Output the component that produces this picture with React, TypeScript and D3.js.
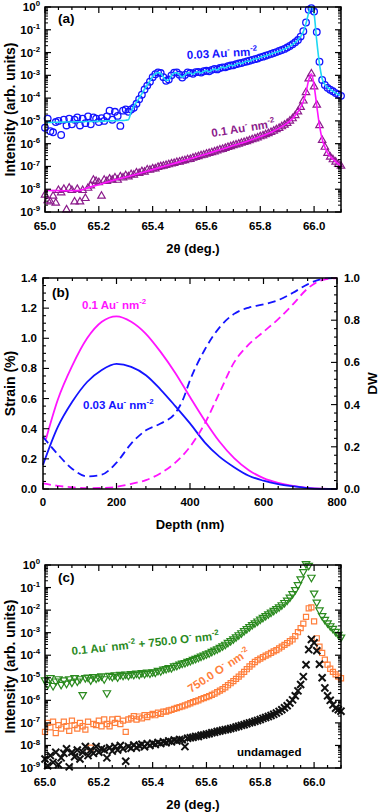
import React from "react";
import * as d3 from "d3";

const FONT = "'Liberation Sans', Arial, Helvetica, sans-serif";

// 2θ scan grid shared by every measured curve (65.00 ... 66.10, step 0.01)
const THETA_START = 65.0;
const THETA_STEP = 0.01;
const THETA_DOMAIN = [65.0, 66.1];
const THETA_TICKS = [65.0, 65.2, 65.4, 65.6, 65.8, 66.0];
const LOG_DECADES = [-9, -8, -7, -6, -5, -4, -3, -2, -1, 0];

// (a) log10 intensity, 0.03 Au- nm-2 : measured
const au003Obs = [
  -5.3, -4.9, -5.45, -5.5, -5.05, -5.0, -5.62, -4.95, -5.2, -4.9,
  -5.15, -4.95, -4.85, -5.2, -4.9, -5.1, -4.8, -5.15, -4.85, -4.9,
  -5.05, -4.88, -5.0, -4.8, -4.55, -4.95, -4.6, -4.78, -5.22, -4.55,
  -4.5, -4.6, -4.5, -4.42, -4.25, -4.05, -3.85, -3.62, -3.45, -3.28,
  -3.08, -2.95, -2.87, -2.9, -3.08, -3.24, -3.18, -3.0, -2.88, -2.87,
  -2.97, -3.1, -2.98, -2.87, -2.9, -2.93, -2.86, -2.85, -2.88, -2.82,
  -2.8, -2.82, -2.76, -2.72, -2.74, -2.68, -2.65, -2.65, -2.6, -2.57,
  -2.56, -2.51, -2.48, -2.46, -2.42, -2.39, -2.36, -2.32, -2.29, -2.26,
  -2.21, -2.18, -2.14, -2.1, -2.06, -2.02, -1.98, -1.93, -1.89, -1.84,
  -1.78, -1.71, -1.63, -1.55, -1.45, -1.3, -1.06, -0.68, -0.12, -0.05,
  -0.2, -1.1, -2.4, -3.2, -3.42, -3.55, -3.63, -3.7, -3.78, -3.84,
  -3.9,
];
// (a) log10 intensity, 0.03 Au- nm-2 : simulated
const au003Fit = [
  -5.07, -5.07, -5.07, -5.06, -5.06, -5.06, -5.06, -5.05, -5.05, -5.05,
  -5.05, -5.04, -5.04, -5.04, -5.04, -5.03, -5.03, -5.03, -5.02, -5.02,
  -5.02, -5.01, -5.01, -5.0, -5.0, -5.0, -4.99, -4.99, -4.98, -4.98,
  -4.97, -4.95, -4.6, -4.35, -4.18, -4.0, -3.8, -3.6, -3.42, -3.25,
  -3.05, -2.93, -2.88, -2.92, -3.08, -3.22, -3.2, -3.02, -2.9, -2.88,
  -2.98, -3.08, -2.98, -2.88, -2.9, -2.95, -2.86, -2.84, -2.9, -2.83,
  -2.79, -2.84, -2.77, -2.72, -2.76, -2.68, -2.64, -2.67, -2.6, -2.56,
  -2.58, -2.51, -2.47, -2.48, -2.42, -2.38, -2.38, -2.32, -2.28, -2.27,
  -2.21, -2.17, -2.15, -2.1, -2.06, -2.02, -1.98, -1.94, -1.9, -1.85,
  -1.79, -1.72, -1.64, -1.55, -1.44, -1.3, -1.08, -0.72, -0.25, 0.03,
  -0.3, -1.5, -2.5, -3.15, -3.4, -3.53, -3.62, -3.7, -3.77, -3.84,
  -3.9,
];
// (a) log10 intensity, 0.1 Au- nm-2 : measured
const au01Obs = [
  -8.25, -8.5, -8.55, -8.3, -8.6, -8.05, -8.15, -8.0, -8.9, -7.95,
  -8.05, -8.55, -8.0, -8.55, -8.05, -8.4, -7.95, -7.85, -7.6, -7.65,
  -7.7, -8.3, -7.6, -7.65, -7.55, -7.6, -7.5, -7.6, -7.45, -7.5,
  -7.4, -7.45, -7.35, -7.38, -7.28, -7.3, -7.22, -7.24, -7.15, -7.16,
  -7.1, -7.1, -7.03, -7.0, -6.98, -6.95, -6.92, -6.88, -6.86, -6.82,
  -6.8, -6.76, -6.74, -6.7, -6.68, -6.63, -6.6, -6.56, -6.52, -6.5,
  -6.45, -6.42, -6.39, -6.35, -6.31, -6.27, -6.24, -6.2, -6.16, -6.12,
  -6.08, -6.05, -6.01, -5.97, -5.94, -5.9, -5.86, -5.82, -5.78, -5.74,
  -5.69, -5.65, -5.6, -5.55, -5.5, -5.44, -5.38, -5.32, -5.25, -5.18,
  -5.1, -5.0, -4.9, -4.76, -4.6, -4.4, -4.12, -3.75, -3.15, -2.93,
  -3.5, -4.3, -5.2, -5.85, -6.15, -6.42, -6.58, -6.7, -6.8, -6.9,
  -6.98,
];
// (a) 0.1 Au- nm-2 : simulated (own 2θ knots)
const au01FitTheta = [
  65.0, 65.05, 65.1, 65.13, 65.16, 65.2, 65.25, 65.3, 65.35, 65.4, 65.45,
  65.5, 65.55, 65.6, 65.65, 65.7, 65.75, 65.8, 65.85, 65.88, 65.9, 65.92,
  65.94, 65.95, 65.96, 65.97, 65.98, 65.99, 66.0, 66.01, 66.02, 66.03,
  66.04, 66.05, 66.07, 66.1,
];
const au01FitLog = [
  -8.05, -8.06, -8.07, -8.05, -7.93, -7.8, -7.62, -7.47, -7.31, -7.14, -6.97,
  -6.8, -6.63, -6.45, -6.27, -6.08, -5.9, -5.69, -5.44, -5.25, -5.1, -4.9,
  -4.6, -4.4, -4.15, -3.75, -3.2, -2.93, -3.45, -4.35, -5.2, -5.8,
  -6.15, -6.4, -6.68, -6.98,
];

// (c) log10 intensity, 0.1 Au- nm-2 + 750.0 O- nm-2
const auOxObs = [
  -5.1, -5.3, -5.0, -5.35, -5.15, -5.05, -5.3, -5.1, -5.25, -5.05,
  -5.2, -5.0, -5.15, -5.05, -5.75, -5.0, -4.98, -5.1, -4.95, -5.02,
  -4.97, -4.92, -5.05, -5.67, -4.9, -4.95, -4.88, -4.97, -4.86, -4.9,
  -4.84, -4.9, -4.82, -4.86, -4.8, -4.85, -4.78, -4.82, -4.76, -4.8,
  -4.74, -4.76, -4.68, -4.7, -4.62, -4.6, -4.55, -4.56, -4.48, -4.46,
  -4.4, -4.36, -4.33, -4.28, -4.24, -4.19, -4.15, -4.1, -4.05, -4.0,
  -3.95, -3.9, -3.84, -3.78, -3.72, -3.66, -3.59, -3.52, -3.44, -3.36,
  -3.28, -3.19, -3.1, -3.01, -2.92, -2.83, -2.74, -2.65, -2.57, -2.49,
  -2.41, -2.33, -2.25, -2.17, -2.1, -2.02, -1.94, -1.86, -1.77, -1.67,
  -1.56, -1.43, -1.28, -1.1, -0.88, -0.62, -0.3, 0.05, -0.02, -0.55,
  -1.25, -1.65, -2.0, -2.25, -2.42, -2.57, -2.7, -2.82, -2.95, -3.08,
  -3.2,
];
// (c) log10 intensity, 750.0 O- nm-2
const oxObs = [
  -7.4, -7.0, -7.2, -6.95, -7.45, -7.1, -7.25, -6.95, -7.15, -7.35,
  -6.9, -7.1, -7.25, -7.0, -7.15, -7.3, -6.95, -8.1, -7.05, -7.1,
  -6.9, -7.15, -6.85, -7.05, -7.15, -6.85, -7.0, -6.82, -7.05, -6.9,
  -7.4, -6.85, -6.8, -6.7, -6.85, -6.72, -6.8, -6.66, -6.74, -6.66,
  -6.6, -6.66, -6.55, -6.6, -6.5, -6.5, -6.45, -6.42, -6.38, -6.34,
  -6.3, -6.27, -6.22, -6.18, -6.13, -6.08, -6.04, -6.0, -5.95, -5.9,
  -5.86, -5.81, -5.76, -5.7, -5.64, -5.57, -5.5, -5.42, -5.33, -5.24,
  -5.15, -5.05, -4.95, -4.85, -4.74, -4.62, -4.5, -4.4, -4.3, -4.22,
  -4.15, -4.08, -4.02, -3.96, -3.9, -3.83, -3.77, -3.7, -3.62, -3.54,
  -3.46, -3.38, -3.3, -3.15, -2.98, -2.8, -2.6, -2.3, -1.92, -1.88,
  -2.5, -3.25, -3.62, -3.9, -4.2, -4.42, -4.6, -4.74, -4.85, -4.95,
  -5.02,
];
// (c) log10 intensity, undamaged
const pristineObs = [
  -8.6, -8.9, -8.45, -8.75, -8.3, -8.85, -8.55, -8.35, -8.15, -8.95,
  -8.3, -8.5, -8.2, -8.6, -8.3, -8.05, -8.45, -8.2, -8.35, -8.05,
  -8.3, -8.15, -8.2, -8.55, -8.1, -8.25, -8.05, -8.2, -8.0, -8.15,
  -8.7, -8.05, -8.12, -7.98, -8.1, -8.0, -7.95, -8.06, -7.92, -8.0,
  -7.9, -7.96, -7.87, -7.92, -7.84, -7.88, -7.8, -7.84, -7.76, -7.8,
  -7.74, -7.75, -8.05, -7.68, -7.66, -7.64, -7.6, -7.6, -7.55, -7.54,
  -7.5, -7.48, -7.44, -7.42, -7.38, -7.36, -7.33, -7.3, -7.28, -7.25,
  -7.22, -7.18, -7.15, -7.11, -7.08, -7.04, -7.0, -6.97, -6.93, -6.89,
  -6.85, -6.8, -6.76, -6.72, -6.67, -6.62, -6.56, -6.49, -6.42, -6.33,
  -6.24, -6.12, -5.98, -5.8, -5.58, -5.3, -4.95, -4.42, -3.75, -3.3,
  -3.45, -3.8, -4.4, -5.0, -5.45, -5.8, -6.0, -6.2, -6.35, -6.42,
  -6.48,
];

// (b) depth profiles
const DEPTH_TICKS = [0, 200, 400, 600, 800];
const STRAIN_TICKS = [0, 0.2, 0.4, 0.6, 0.8, 1.0, 1.2, 1.4];
const DW_TICKS = [0, 0.2, 0.4, 0.6, 0.8, 1.0];
const depthGrid = [0, 40, 80, 120, 160, 200, 240, 280, 320, 360, 400, 440, 480, 520, 560, 600, 640, 680, 720, 760, 800];
const strain01Depth = [8, 40, 80, 120, 160, 200, 240, 280, 320, 360, 400, 440, 480, 520, 560, 600, 640, 680, 720, 760, 800];
const strain01 = [0.33, 0.59, 0.82, 1.0, 1.11, 1.146, 1.11, 1.03, 0.91, 0.77, 0.61, 0.455, 0.315, 0.205, 0.125, 0.072, 0.04, 0.02, 0.008, 0.002, 0.0];
const strain003 = [0.16, 0.41, 0.58, 0.71, 0.79, 0.83, 0.81, 0.755, 0.66, 0.55, 0.435, 0.31, 0.215, 0.145, 0.088, 0.055, 0.033, 0.018, 0.006, 0.001, 0.0];
const dw003Depth = [0, 40, 80, 120, 160, 200, 240, 280, 320, 360, 380, 400, 440, 480, 520, 560, 600, 640, 680, 720, 760, 800];
const dw003 = [0.247, 0.165, 0.095, 0.06, 0.068, 0.125, 0.215, 0.278, 0.31, 0.36, 0.42, 0.515, 0.66, 0.765, 0.83, 0.86, 0.875, 0.895, 0.93, 0.97, 0.995, 1.0];
const dw01 = [0.027, 0.015, 0.008, 0.004, 0.005, 0.01, 0.024, 0.042, 0.075, 0.125, 0.2, 0.31, 0.455, 0.6, 0.685, 0.745, 0.805, 0.875, 0.95, 0.99, 1.0];

const FRAME_A = { left: 45, right: 341, top: 7, bottom: 212 };
const FRAME_B = { left: 43, right: 337, top: 278, bottom: 489 };
const FRAME_C = { left: 45, right: 341, top: 565, bottom: 768 };

const BLUE = "#1414ff";
const CYAN = "#1fd8f2";
const PURPLE = "#8c1c8c";
const MAGENTA = "#ff14ff";
const GREEN = "#2a8a1e";
const ORANGE = "#ff7f3c";

type Part = { t: string; sup?: boolean };
function Rich({ parts, fs = 11.5, ...rest }: any) {
  let level = 0;
  return (
    <text {...rest} fontSize={fs} style={{ whiteSpace: "pre" }}>
      {parts.map((p: Part, i: number) => {
        const target = p.sup ? -fs * 0.42 : 0;
        const dy = target - level;
        level = target;
        return (
          <tspan key={i} dy={dy} fontSize={p.sup ? fs * 0.68 : fs}>
            {p.t}
          </tspan>
        );
      })}
    </text>
  );
}

const auLabel = (dose: string): Part[] => [
  { t: `${dose} Au` }, { t: "-", sup: true }, { t: " nm" }, { t: "-2", sup: true },
];

const thetaAt = (i: number) => THETA_START + i * THETA_STEP;

const triPath = d3.symbol().type(d3.symbolTriangle).size(24)() as string;
const sqPath = d3.symbol().type(d3.symbolSquare).size(26)() as string;
const xPath = d3.symbol().type(((d3 as any).symbolX ?? d3.symbolCross) as any).size(34)() as string;

function Frame({ f }: any) {
  return <rect x={f.left} y={f.top} width={f.right - f.left} height={f.bottom - f.top} fill="none" stroke="#000" strokeWidth={1.5} />;
}

function ThetaAxis({ f, x }: any) {
  const minors = d3.range(0, 23).map((i) => 65.0 + i * 0.05);
  return (
    <g>
      {minors.map((t, i) => {
        const major = i % 4 === 0;
        const len = major ? 6 : 3;
        const px = x(t);
        return (
          <g key={i} stroke="#000" strokeWidth={1.2}>
            <line x1={px} x2={px} y1={f.bottom} y2={f.bottom - len} />
            <line x1={px} x2={px} y1={f.top} y2={f.top + len} />
          </g>
        );
      })}
      {THETA_TICKS.map((t) => (
        <text key={t} x={x(t)} y={f.bottom + 18} textAnchor="middle" fontSize={11.5}>
          {d3.format(".1f")(t)}
        </text>
      ))}
      <text x={(f.left + f.right) / 2} y={f.bottom + 41} textAnchor="middle" fontSize={13}>
        2θ (deg.)
      </text>
    </g>
  );
}

function LogAxis({ f, y }: any) {
  const minors: number[] = [];
  LOG_DECADES.slice(0, -1).forEach((d) => {
    for (let k = 2; k <= 9; k++) minors.push(k * Math.pow(10, d));
  });
  const mid = (f.top + f.bottom) / 2;
  return (
    <g>
      {LOG_DECADES.map((d) => {
        const py = y(Math.pow(10, d));
        return (
          <g key={d}>
            <line x1={f.left} x2={f.left + 6} y1={py} y2={py} stroke="#000" strokeWidth={1.2} />
            <line x1={f.right} x2={f.right - 6} y1={py} y2={py} stroke="#000" strokeWidth={1.2} />
            <Rich x={f.left - 5} y={py + 4} textAnchor="end" parts={[{ t: "10" }, { t: String(d), sup: true }]} />
          </g>
        );
      })}
      {minors.map((v, i) => {
        const py = y(v);
        return (
          <g key={i} stroke="#000" strokeWidth={1}>
            <line x1={f.left} x2={f.left + 3} y1={py} y2={py} />
            <line x1={f.right} x2={f.right - 3} y1={py} y2={py} />
          </g>
        );
      })}
      <text transform={`translate(15,${mid}) rotate(-90)`} textAnchor="middle" fontSize={14}>
        Intensity (arb. units)
      </text>
    </g>
  );
}

function Markers({ values, x, y, path, color, rotate = 0, sw = 1.2 }: any) {
  return (
    <g fill="none" stroke={color} strokeWidth={sw}>
      {values.map((v: number, i: number) => (
        <path key={i} d={path} transform={`translate(${x(thetaAt(i))},${y(Math.pow(10, v))})${rotate ? ` rotate(${rotate})` : ""}`} />
      ))}
    </g>
  );
}

function PanelA() {
  const f = FRAME_A;
  const x = d3.scaleLinear().domain(THETA_DOMAIN).range([f.left, f.right]);
  const y = d3.scaleLog().domain([1e-9, 1]).range([f.bottom, f.top]);
  const gridLine = d3
    .line<number>()
    .x((_, i) => x(thetaAt(i)))
    .y((v) => y(Math.pow(10, v)))
    .curve(d3.curveMonotoneX);
  const knotLine = d3
    .line<number>()
    .x((_, i) => x(au01FitTheta[i]))
    .y((v) => y(Math.pow(10, v)))
    .curve(d3.curveMonotoneX);
  return (
    <g>
      <g fill="none" stroke={BLUE} strokeWidth={1.3}>
        {au003Obs.map((v, i) => (
          <circle key={i} cx={x(thetaAt(i))} cy={y(Math.pow(10, v))} r={3.3} />
        ))}
      </g>
      <Markers values={au01Obs} x={x} y={y} path={triPath} color={PURPLE} />
      <path d={gridLine(au003Fit) as string} fill="none" stroke={CYAN} strokeWidth={1.6} />
      <path d={knotLine(au01FitLog) as string} fill="none" stroke={MAGENTA} strokeWidth={1.6} />
      <Frame f={f} />
      <ThetaAxis f={f} x={x} />
      <LogAxis f={f} y={y} />
      <text x={58} y={23} fontSize={13.5}>(a)</text>
      <Rich x={187} y={59} fill={BLUE} fs={11.5} transform="rotate(-3 187 59)" parts={auLabel("0.03")} />
      <Rich x={212} y={137} fill={PURPLE} fs={11.5} transform="rotate(-9 212 137)" parts={auLabel("0.1")} />
    </g>
  );
}

function PanelB() {
  const f = FRAME_B;
  const x = d3.scaleLinear().domain([0, 800]).range([f.left, f.right]);
  const yS = d3.scaleLinear().domain([0, 1.4]).range([f.bottom, f.top]);
  const yD = d3.scaleLinear().domain([0, 1]).range([f.bottom, f.top]);
  const mk = (depths: number[], ys: any) =>
    d3
      .line<number>()
      .x((_, i) => x(depths[i]))
      .y((v) => ys(v))
      .curve(d3.curveMonotoneX);
  const xMinor = d3.range(0, 801, 40);
  const sMinor = d3.range(0, 29).map((i) => i * 0.05);
  const dMinor = d3.range(0, 26).map((i) => i * 0.04);
  const mid = (f.top + f.bottom) / 2;
  return (
    <g>
      <path d={mk(strain01Depth, yS)(strain01) as string} fill="none" stroke={MAGENTA} strokeWidth={1.8} />
      <path d={mk(depthGrid, yS)(strain003) as string} fill="none" stroke={BLUE} strokeWidth={1.8} />
      <path d={mk(dw003Depth, yD)(dw003) as string} fill="none" stroke={BLUE} strokeWidth={1.8} strokeDasharray="8 4.5" />
      <path d={mk(depthGrid, yD)(dw01) as string} fill="none" stroke={MAGENTA} strokeWidth={1.8} strokeDasharray="8 4.5" />
      <Frame f={f} />
      <g stroke="#000">
        {xMinor.map((d) => {
          const len = d % 200 === 0 ? 6 : 3;
          return (
            <g key={d} strokeWidth={1.2}>
              <line x1={x(d)} x2={x(d)} y1={f.bottom} y2={f.bottom - len} />
              <line x1={x(d)} x2={x(d)} y1={f.top} y2={f.top + len} />
            </g>
          );
        })}
        {sMinor.map((s, i) => (
          <line key={i} x1={f.left} x2={f.left + (i % 4 === 0 ? 6 : 3)} y1={yS(s)} y2={yS(s)} strokeWidth={1.1} />
        ))}
        {dMinor.map((s, i) => (
          <line key={i} x1={f.right} x2={f.right - (i % 5 === 0 ? 6 : 3)} y1={yD(s)} y2={yD(s)} strokeWidth={1.1} />
        ))}
      </g>
      {DEPTH_TICKS.map((d) => (
        <text key={d} x={x(d)} y={f.bottom + 17} textAnchor="middle" fontSize={11.5}>{d}</text>
      ))}
      {STRAIN_TICKS.map((s) => (
        <text key={s} x={f.left - 6} y={yS(s) + 4} textAnchor="end" fontSize={11.5}>{d3.format(".1f")(s)}</text>
      ))}
      {DW_TICKS.map((s) => (
        <text key={s} x={f.right + 7} y={yD(s) + 4} textAnchor="start" fontSize={11.5}>{d3.format(".1f")(s)}</text>
      ))}
      <text x={(f.left + f.right) / 2} y={f.bottom + 40} textAnchor="middle" fontSize={13}>Depth (nm)</text>
      <text transform={`translate(15,${mid}) rotate(-90)`} textAnchor="middle" fontSize={14}>Strain (%)</text>
      <text transform={`translate(377,${mid}) rotate(-90)`} textAnchor="middle" fontSize={13.5}>DW</text>
      <text x={52} y={297} fontSize={13.5}>(b)</text>
      <Rich x={82} y={309} fill={MAGENTA} parts={auLabel("0.1")} />
      <Rich x={83} y={409} fill={BLUE} parts={auLabel("0.03")} />
    </g>
  );
}

function PanelC() {
  const f = FRAME_C;
  const x = d3.scaleLinear().domain(THETA_DOMAIN).range([f.left, f.right]);
  const y = d3.scaleLog().domain([1e-9, 1]).range([f.bottom, f.top]);
  const oxParts: Part[] = [{ t: "750.0 O" }, { t: "-", sup: true }, { t: " nm" }, { t: "-2", sup: true }];
  return (
    <g>
      <Markers values={auOxObs} x={x} y={y} path={triPath} color={GREEN} rotate={180} />
      <Markers values={oxObs} x={x} y={y} path={sqPath} color={ORANGE} />
      <Markers values={pristineObs} x={x} y={y} path={xPath} color="#111" sw={2} />
      <Frame f={f} />
      <ThetaAxis f={f} x={x} />
      <LogAxis f={f} y={y} />
      <text x={58} y={582} fontSize={13.5}>(c)</text>
      <Rich
        x={72}
        y={655}
        fill={GREEN}
        transform="rotate(-6 72 655)"
        parts={[...auLabel("0.1"), { t: " + " }, ...oxParts]}
      />
      <Rich x={191} y={693} fill={ORANGE} transform="rotate(-33 191 693)" parts={oxParts} />
      <text x={237} y={756} fontSize={11.5}>undamaged</text>
    </g>
  );
}

export default function App() {
  return (
    <svg
      width={380}
      height={812}
      viewBox="0 0 380 812"
      style={{ position: "absolute", left: 0, top: 0, background: "#fff" }}
      fontFamily={FONT}
      fontWeight="bold"
    >
      <PanelA />
      <PanelB />
      <PanelC />
    </svg>
  );
}
